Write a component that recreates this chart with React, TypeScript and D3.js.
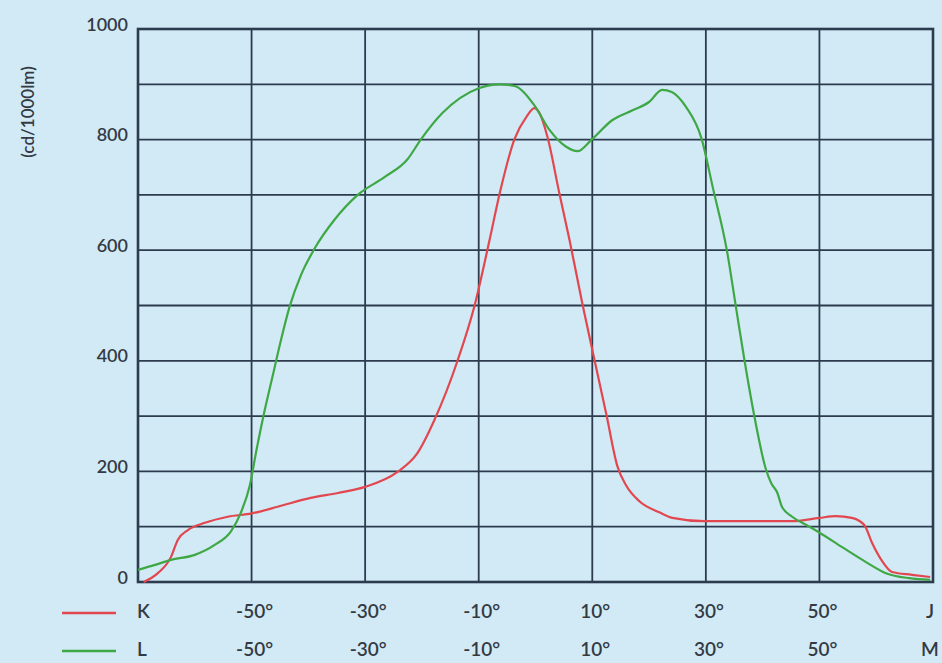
import * as d3 from 'd3';

type Pt = [number, number];

// K curve (red): angle in degrees, intensity in cd/1000lm
const kCurve: Pt[] = [
  [-69, 0], [-66.5, 16], [-64.2, 45], [-63, 76], [-61.2, 94], [-58.2, 107], [-54.2, 118],
  [-50, 124], [-45.4, 136], [-39.6, 152], [-34.8, 161], [-30, 172], [-24.3, 199],
  [-20.8, 233], [-17.8, 293], [-13.7, 401], [-10.7, 501], [-8.1, 618], [-6.3, 703],
  [-3.7, 801], [-1.6, 841], [-0.2, 857], [0.7, 848], [2.1, 805], [4.2, 703], [6, 618],
  [8.3, 501], [10.4, 401], [12.5, 302], [14.4, 210], [16, 174], [18.3, 146], [21.8, 126],
  [24.1, 116], [29.7, 110], [45.2, 110], [50, 116], [52.9, 119], [55.7, 116], [57.9, 103],
  [59.3, 70], [60.9, 40], [62.8, 18], [66.3, 13], [69.5, 9],
];

// L curve (green)
const lCurve: Pt[] = [
  [-70, 22], [-67, 31], [-64.2, 40], [-60, 49], [-56.5, 67], [-53.6, 92], [-51.9, 125],
  [-50.3, 175], [-49.2, 235], [-47.7, 310], [-46.3, 372], [-45, 430], [-43.3, 498],
  [-41.3, 555], [-38.9, 603], [-35.4, 655], [-31.3, 700], [-26.6, 732], [-22.5, 765],
  [-20.2, 800], [-16.4, 848], [-10, 893], [-6.3, 900], [-3.7, 897], [-0.2, 862],
  [2.5, 817], [5.4, 787], [7.4, 779], [9.8, 799], [13.5, 835], [17.1, 853], [20, 868],
  [22.3, 890], [24, 886], [26.5, 859], [29.2, 803], [31.3, 710], [33.7, 600], [35.3, 497],
  [36.8, 401], [38.5, 302], [40.6, 203], [41.5, 179], [42.6, 161], [43.4, 136], [45.2, 118],
  [47.7, 103], [49.9, 90], [54, 63], [58.2, 36], [61.7, 16], [65.8, 7], [69.5, 4],
];

const xGrid = [-70, -50, -30, -10, 10, 30, 50, 70];
const xTickLabels = [-50, -30, -10, 10, 30, 50];
const yGrid = d3.range(0, 1001, 100);
const yTickLabels = [0, 200, 400, 600, 800, 1000];
const series = [
  { name: 'K', end: 'J', data: kCurve, color: '#e2474f' },
  { name: 'L', end: 'M', data: lCurve, color: '#3fa845' },
];

export default function App() {
  const width = 942;
  const height = 663;
  const x = d3.scaleLinear().domain([-70, 70]).range([138, 933]);
  const y = d3.scaleLinear().domain([0, 1000]).range([582, 29]);

  const line = d3
    .line<Pt>()
    .x((d) => x(d[0]))
    .y((d) => y(d[1]))
    .curve(d3.curveMonotoneX);

  const gridColor = '#2c3b4e';
  const textColor = '#343a44';
  const font = 'Lato, "Open Sans", sans-serif';
  const rowY = [613, 651];

  return (
    <svg
      width={width}
      height={height}
      style={{ position: 'absolute', left: 0, top: 0, display: 'block' }}
      fontFamily={font}
    >
      <rect x={0} y={0} width={width} height={height} fill='#d1eaf6' />
      <g stroke={gridColor} strokeWidth={1.8}>
        {yGrid.map((v) => (
          <line key={`h${v}`} x1={x(-70)} x2={x(70)} y1={y(v)} y2={y(v)} />
        ))}
        {xGrid.map((v) => (
          <line key={`v${v}`} x1={x(v)} x2={x(v)} y1={y(0)} y2={y(1000)} />
        ))}
      </g>
      <rect
        x={x(-70)}
        y={y(1000)}
        width={x(70) - x(-70)}
        height={y(0) - y(1000)}
        fill='none'
        stroke={gridColor}
        strokeWidth={2.6}
      />
      {series.map((s) => (
        <path key={s.name} d={line(s.data) ?? ''} fill='none' stroke={s.color} strokeWidth={2.2} />
      ))}
      <g fill={textColor} fontSize={18} fontWeight={600} textAnchor='end'>
        {yTickLabels.map((v) => (
          <text key={v} x={128} y={y(v) - 3} dominantBaseline='middle'>
            {v}
          </text>
        ))}
      </g>
      <text
        transform='translate(30,112) rotate(-90)'
        textAnchor='middle'
        dominantBaseline='middle'
        fontSize={17}
        fontWeight={600}
        fill={textColor}
      >
        (cd/1000lm)
      </text>
      {series.map((s, i) => (
        <g key={`row${s.name}`} fill={textColor} fontSize={19} fontWeight={600}>
          <line x1={62} x2={116} y1={rowY[i]} y2={rowY[i]} stroke={s.color} strokeWidth={2.5} />
          <text x={137} y={rowY[i]} dominantBaseline='middle'>
            {s.name}
          </text>
          {xTickLabels.map((v) => (
            <text key={v} x={x(v) + 3} y={rowY[i]} textAnchor='middle' dominantBaseline='middle'>
              {v}°
            </text>
          ))}
          <text x={x(70) - 3} y={rowY[i]} textAnchor='middle' dominantBaseline='middle'>
            {s.end}
          </text>
        </g>
      ))}
    </svg>
  );
}
